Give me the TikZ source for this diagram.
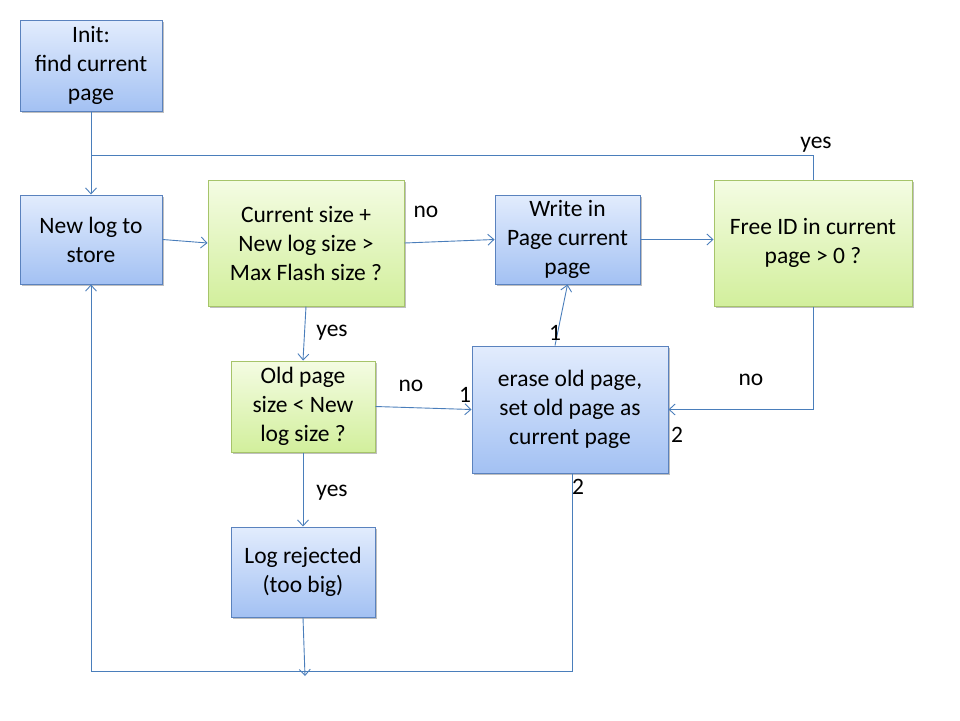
\documentclass[tikz,border=0pt]{standalone}
\usepackage{fontspec}
\setmainfont{Carlito}
\usetikzlibrary{arrows.meta,shadows}
\definecolor{lnblue}{HTML}{4A7EBB}
\definecolor{bluetop}{HTML}{E2ECFD}
\definecolor{bluebot}{HTML}{A3C1F3}
\definecolor{blueedge}{HTML}{5A82BE}
\definecolor{greentop}{HTML}{F4FCE3}
\definecolor{greenbot}{HTML}{D2EF9C}
\definecolor{greenedge}{HTML}{A6C46A}
\tikzset{
  txt/.style={font=\fontsize{23.5}{29}\selectfont, align=center, text=black},
  bluebox/.style={txt, draw=blueedge, line width=1pt, top color=bluetop, bottom color=bluebot, inner sep=0pt,
    drop shadow={shadow xshift=1.5pt, shadow yshift=-1.5pt, fill=black, opacity=0.25}},
  greenbox/.style={txt, draw=greenedge, line width=1pt, top color=greentop, bottom color=greenbot, inner sep=0pt,
    drop shadow={shadow xshift=1.5pt, shadow yshift=-1.5pt, fill=black, opacity=0.25}},
  conn/.style={draw=lnblue, line width=0.9pt},
  arr/.style={conn, -{Straight Barb[length=6pt,width=11pt,line width=0.9pt]}},
  lbl/.style={txt, inner sep=0pt}
}
\begin{document}
\begin{tikzpicture}[x=1pt,y=-1pt]
\fill[white] (0,0) rectangle (960,720);
\useasboundingbox (0,0) rectangle (960,720);

\node[bluebox, minimum width=142, minimum height=91] (init) at (91,65.5) {Init:\\find current\\page};
\node[bluebox, minimum width=142, minimum height=89] (newlog) at (91,239.5) {New log to\\store};
\node[greenbox, minimum width=196, minimum height=126] (cur) at (306,243) {Current size +\\New log size >\\Max Flash size ?};
\node[bluebox, minimum width=145, minimum height=89] (write) at (567.5,239.5) {Write in\\Page current\\page};
\node[greenbox, minimum width=198, minimum height=126] (free) at (813,243) {Free ID in current\\page > 0 ?};
\node[greenbox, minimum width=144, minimum height=91] (old) at (303,406.5) {Old page\\size < New\\log size ?};
\node[bluebox, minimum width=196, minimum height=127] (erase) at (570,409.5) {erase old page,\\set old page as\\current page};
\node[bluebox, minimum width=144, minimum height=90] (rej) at (303,572) {Log rejected\\(too big)};

\coordinate (j) at (91,155);
\coordinate (b) at (91,671);
\coordinate (rejend) at (305,676);

\draw[arr] (init.south) -- (newlog.north);
\draw[conn] (free.north) |- (j);
\draw[arr] (newlog.east) -- (cur.west);
\draw[arr] (cur.east) -- (write.west);
\draw[arr] (write.east) -- (write.east -| free.west);
\draw[arr] (cur.south) -- (old.north);
\draw[arr] (old.east) -- (erase.west);
\draw[arr] (old.south) -- (rej.north);
\draw[arr] ([xshift=-15pt]erase.north) -- (write.south);
\draw[arr] (free.south) |- (erase.east);
\draw[arr] ([xshift=2pt]erase.south) |- (b) -- (newlog.south);
\draw[arr] (rej.south) -- (rejend);

\node[lbl] (l1) at (816,145) {yes};
\node[lbl] (l2) at (426,212) {no};
\node[lbl] (l3) at (332,333) {yes};
\node[lbl] (l4) at (411,386) {no};
\node[lbl] (l5) at (465,395) {1};
\node[lbl] (l6) at (555,333) {1};
\node[lbl] (l7) at (751,380) {no};
\node[lbl] (l8) at (677,435) {2};
\node[lbl] (l9) at (578,487) {2};
\node[lbl] (l10) at (332,493) {yes};
\end{tikzpicture}
\end{document}
